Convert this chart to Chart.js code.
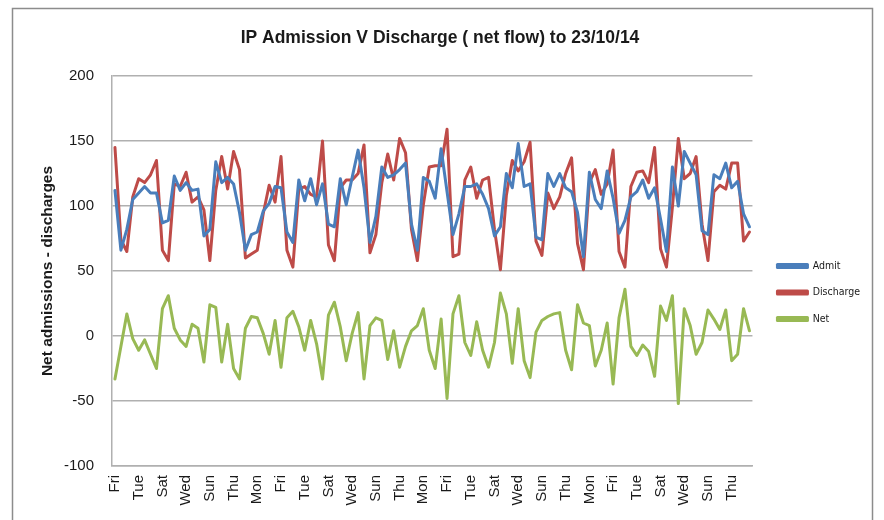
<!DOCTYPE html>
<html><head><meta charset="utf-8">
<script src="https://cdn.jsdelivr.net/npm/chart.js@4.4.1/dist/chart.umd.min.js"></script>
<style>html,body{margin:0;padding:0;background:#fff;}</style>
</head><body>
<canvas id="c" width="884" height="520"></canvas>
<script>
const days = [
"Fri","Sat","Sun","Mon","Tue","Wed","Thu",
"Fri","Sat","Sun","Mon","Tue","Wed","Thu",
"Fri","Sat","Sun","Mon","Tue","Wed","Thu",
"Fri","Sat","Sun","Mon","Tue","Wed","Thu",
"Fri","Sat","Sun","Mon","Tue","Wed","Thu",
"Fri","Sat","Sun","Mon","Tue","Wed","Thu",
"Fri","Sat","Sun","Mon","Tue","Wed","Thu",
"Fri","Sat","Sun","Mon","Tue","Wed","Thu",
"Fri","Sat","Sun","Mon","Tue","Wed","Thu",
"Fri","Sat","Sun","Mon","Tue","Wed","Thu",
"Fri","Sat","Sun","Mon","Tue","Wed","Thu",
"Fri","Sat","Sun","Mon","Tue","Wed","Thu",
"Fri","Sat","Sun","Mon","Tue","Wed","Thu",
"Fri","Sat","Sun","Mon","Tue","Wed","Thu",
"Fri","Sat","Sun","Mon","Tue","Wed","Thu",
"Fri","Sat","Sun"];

const admit = [
112,66,82,105,110,115,110,110,87,89,
123,112,118,112,113,77,82,134,118,122,
117,95,66,78,80,96,102,115,114,80,
72,120,104,121,101,117,86,84,121,101,
122,143,114,72,92,130,122,124,128,133,
86,66,122,119,106,144,111,78,94,115,
115,117,109,98,77,84,125,114,148,115,
117,76,74,125,115,125,114,111,95,61,
126,105,98,127,106,79,89,107,111,120,
106,114,90,65,130,100,142,133,124,81,
78,124,121,133,114,119,94,84];

const discharge = [
145,74,65,107,121,118,124,135,66,58,
117,115,126,103,107,97,58,112,138,113,
142,128,60,63,66,94,116,103,138,66,
53,113,115,109,107,150,70,58,114,120,
120,125,147,64,78,118,140,120,152,141,
82,58,101,130,131,131,159,61,63,120,
130,106,120,122,82,51,108,135,127,134,
149,73,62,110,98,107,125,137,71,51,
118,128,109,117,143,65,53,115,126,127,
118,145,67,53,99,152,121,125,138,86,
58,111,116,113,133,133,73,80];

const net = [
-33,-8,17,-2,-11,-3,-14,-25,21,31,
6,-3,-8,9,6,-20,24,22,-20,9,
-25,-33,6,15,14,2,-14,12,-24,14,
19,7,-11,12,-6,-33,16,26,7,-19,
2,18,-33,8,14,12,-18,4,-24,-8,
4,8,21,-11,-25,13,-48,17,31,-5,
-15,11,-11,-24,-5,33,17,-21,21,-19,
-32,3,12,15,17,18,-11,-26,24,10,
8,-23,-11,10,-37,14,36,-8,-15,-7,
-12,-31,23,12,31,-52,21,8,-14,-5,
20,13,5,20,-19,-14,21,4];

const yMin = -100, yMax = 200, yStep = 50;
const chartTitle = "IP Admission V Discharge ( net flow) to 23/10/14";
const yTitle = "Net admissions - discharges";

const FONT = "'Liberation Sans', Arial, sans-serif";
const NARROW = "'Liberation Sans Narrow', 'DejaVu Sans Condensed', sans-serif";

const borderPlugin = {
  id: 'outerBorder',
  beforeDraw(chart) {
    const ctx = chart.ctx;
    ctx.save();
    ctx.fillStyle = '#ffffff';
    ctx.fillRect(0, 0, chart.width, chart.height);
    ctx.strokeStyle = '#8c8c8c';
    ctx.lineWidth = 1.5;
    ctx.strokeRect(12.5, 8.5, 860, 540);
    ctx.restore();
  }
};

const legendShift = {
  id: 'legendShift',
  afterLayout(chart) {
    const lg = chart.legend;
    if (!lg) return;
    lg.left += 9; lg.right += 9;
    lg.top += 14; lg.bottom += 14;
  }
};

new Chart(document.getElementById('c'), {
  type: 'line',
  data: {
    labels: days,
    datasets: [
      {label: 'Admit', data: admit, borderColor: '#4a7ebb', backgroundColor: '#4a7ebb'},
      {label: 'Discharge', data: discharge, borderColor: '#be4b48', backgroundColor: '#be4b48'},
      {label: 'Net', data: net, borderColor: '#98b954', backgroundColor: '#98b954'}
    ]
  },
  options: {
    responsive: false,
    animation: false,
    devicePixelRatio: 1,
    elements: {
      line: {borderWidth: 3, tension: 0, borderJoinStyle: 'round', borderCapStyle: 'round'},
      point: {radius: 0, hoverRadius: 0}
    },
    layout: {padding: {left: 19, right: 23, top: 0, bottom: 0}},
    plugins: {
      title: {
        display: true, text: chartTitle, color: '#1a1a1a',
        font: {family: FONT, size: 17.5, weight: 'bold', lineHeight: 1.2},
        padding: {top: 28, bottom: 27}
      },
      legend: {
        position: 'right', align: 'center',
        title: {display: true, text: ' ', padding: 12, font: {size: 11}},
        labels: {
          boxWidth: 30, boxHeight: 3, padding: 16, color: '#1a1a1a',
          font: {family: NARROW, size: 10.5}
        }
      },
      tooltip: {enabled: false}
    },
    scales: {
      x: {
        offset: true,
        grid: {display: false, drawTicks: false},
        border: {display: true, color: '#b0b0b0', width: 1.5},
        ticks: {
          autoSkip: false, minRotation: 90, maxRotation: 90, padding: 9,
          color: '#1a1a1a', font: {family: FONT, size: 15},
          callback: function(v, i) { return i % 4 === 0 ? days[i] : null; }
        },
        afterFit(s) { s.height = 54; }
      },
      y: {
        min: yMin, max: yMax,
        grid: {color: '#b0b0b0', lineWidth: 1.5, drawTicks: false},
        border: {display: true, color: '#b0b0b0', width: 1.5},
        ticks: {stepSize: yStep, padding: 18, color: '#1a1a1a', font: {family: FONT, size: 15}},
        title: {
          display: true, text: yTitle, color: '#1a1a1a',
          font: {family: FONT, size: 15.5, weight: 'bold', lineHeight: 1.2},
          padding: {top: 19, bottom: 0}
        },
        afterFit(s) { s.width = 93; }
      }
    }
  },
  plugins: [borderPlugin, legendShift]
});
</script>
</body></html>
